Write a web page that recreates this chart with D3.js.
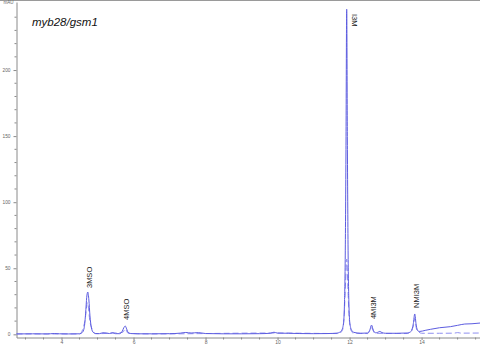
<!DOCTYPE html>
<html>
<head>
<meta charset="utf-8">
<script src="https://cdn.jsdelivr.net/npm/d3@7"></script>
<style>
  body { margin: 0; background: #fff; }
  svg { display: block; }
  .axis path, .axis line { stroke: #8a8a8a; }
  .axis text { fill: #666; font-family: "Liberation Sans", Arial, sans-serif; }
</style>
</head>
<body>
<div id="chart"></div>
<script>
// retention time (min) and absorbance (mAU)
var solidTime = [2.75, 3.2, 3.6, 3.8, 3.95, 4.2, 4.5, 4.58, 4.63, 4.67, 4.70, 4.73, 4.76, 4.79, 4.83, 4.88, 4.95, 5.05, 5.15, 5.25, 5.33, 5.42, 5.5, 5.62, 5.69, 5.73, 5.77, 5.81, 5.85, 5.92, 6.1, 6.5, 7.0, 7.3, 7.45, 7.6, 7.8, 8.0, 8.5, 9.0, 9.5, 9.8, 9.9, 10.0, 10.3, 10.6, 11.0, 11.4, 11.65, 11.72, 11.78, 11.83, 11.86, 11.88, 11.90, 11.92, 11.94, 11.96, 11.98, 12.01, 12.06, 12.12, 12.3, 12.5, 12.56, 12.61, 12.66, 12.72, 12.78, 12.84, 12.9, 13.0, 13.3, 13.6, 13.72, 13.77, 13.81, 13.85, 13.9, 13.95, 14.1, 14.25, 14.5, 14.8, 15.0, 15.2, 15.4, 15.65];
var solidValue = [0.3, 0.4, 0.3, 0.6, 0.4, 0.3, 0.4, 1.5, 5, 16, 28, 32, 26, 14, 5, 1.5, 0.6, 0.5, 1.2, 1.0, 0.6, 1.3, 0.5, 0.5, 2.5, 5, 6.3, 4, 1.5, 0.6, 0.4, 0.4, 0.5, 0.9, 1.4, 1.0, 1.3, 0.6, 0.4, 0.4, 0.5, 0.8, 1.6, 0.9, 0.8, 0.6, 0.5, 0.6, 0.9, 1.5, 3, 8, 25, 60, 140, 246, 140, 60, 25, 8, 3, 1.5, 0.8, 1.0, 3, 7, 3, 1.2, 1.5, 2.2, 1.3, 0.8, 0.8, 1.0, 2.5, 8, 15.4, 7, 2.5, 2.2, 3.0, 3.8, 5.0, 5.8, 6.8, 7.8, 8.0, 8.6];

var dashTime = [2.75, 4.5, 4.65, 4.72, 4.8, 4.95, 5.7, 5.77, 5.85, 6.5, 9.9, 11.7, 11.8, 11.85, 11.89, 11.92, 11.95, 11.99, 12.04, 12.1, 12.5, 12.61, 12.7, 13.6, 13.77, 13.81, 13.86, 14.0, 14.5, 14.9, 15.0, 15.1, 15.65];
var dashValue = [0.3, 0.3, 10, 24, 8, 0.5, 1.5, 4, 0.8, 0.3, 1.0, 0.6, 3, 14, 40, 57, 38, 12, 3, 1.0, 0.6, 5, 0.8, 0.6, 6, 12, 4, 0.8, 0.8, 0.9, 1.3, 0.9, 1.0];

var peakNames = ["3MSO", "4MSO", "I3M", "4MI3M", "NMI3M"];
var peakTime = [4.73, 5.77, 11.92, 12.61, 13.81];
var peakValue = [32, 6.3, 246, 7, 15.4];

var xTicks = [4, 6, 8, 10, 12, 14];
var yTicks = [0, 50, 100, 150, 200];

var width = 480, height = 346;
var svg = d3.select("#chart").append("svg")
    .attr("width", width)
    .attr("height", height);

var x = d3.scaleLinear().domain([2.75, 15.65]).range([16.5, 481]);
var y = d3.scaleLinear().domain([-2.4, 251.5]).range([337.5, 2]);

// thin frame line along the top
svg.append("line")
    .attr("x1", 0).attr("x2", width)
    .attr("y1", 0.5).attr("y2", 0.5)
    .style("stroke", "#9a9a9a");

// x axis
var xAxis = svg.append("g")
    .attr("class", "axis")
    .attr("transform", "translate(0," + y.range()[0] + ")")
    .call(d3.axisBottom(x).tickValues(xTicks).tickSize(2.5).tickSizeOuter(0).tickFormat(d3.format("d")));
xAxis.selectAll("text").style("font-size", "5px").attr("y", 3).attr("dy", "0.71em");
xAxis.selectAll(".minor")
    .data(d3.range(3, 15.6, 0.5).filter(function(d) { return d % 2 != 0; }))
  .enter().append("line")
    .attr("class", "minor")
    .attr("x1", function(d) { return x(d); }).attr("x2", function(d) { return x(d); })
    .attr("y1", 0).attr("y2", 2);

// y axis
var yAxis = svg.append("g")
    .attr("class", "axis")
    .attr("transform", "translate(" + x.range()[0] + ",0)")
    .call(d3.axisLeft(y).tickValues(yTicks).tickSize(3).tickSizeOuter(0));
yAxis.selectAll("text").style("font-size", "4.8px");
yAxis.selectAll(".minor")
    .data(d3.range(10, 250, 10).filter(function(d) { return d % 50 != 0; }))
  .enter().append("line")
    .attr("class", "minor")
    .attr("x1", -2).attr("x2", 0)
    .attr("y1", function(d) { return y(d); }).attr("y2", function(d) { return y(d); });
yAxis.append("text")
    .attr("x", -3).attr("y", 4)
    .attr("text-anchor", "end")
    .style("font-size", "4.5px")
    .text("mAU");

// traces
var line = d3.line()
    .x(function(d) { return x(d[0]); })
    .y(function(d) { return y(d[1]); })
    .curve(d3.curveMonotoneX);

svg.append("path")
    .datum(d3.zip(dashTime, dashValue))
    .attr("d", line)
    .style("fill", "none")
    .style("stroke", "#8f8ff0")
    .style("stroke-width", 1)
    .style("stroke-dasharray", "6,3");

svg.append("path")
    .datum(d3.zip(solidTime, solidValue))
    .attr("d", line)
    .style("fill", "none")
    .style("stroke", "#5c5ce0")
    .style("stroke-width", 1);

// peak labels
var labelOffset = [4, 6, 0, 6, 6];
svg.selectAll(".peak")
    .data(peakNames)
  .enter().append("text")
    .attr("class", "peak")
    .attr("transform", function(d, i) {
      if (d == "I3M") {
        return "translate(" + (x(peakTime[i]) + 5) + "," + 14 + ") rotate(90)";
      }
      return "translate(" + (x(peakTime[i]) + 4) + "," + (y(peakValue[i]) - labelOffset[i]) + ") rotate(-90)";
    })
    .style("font-family", "Liberation Sans, Arial, sans-serif")
    .style("font-size", "7.5px")
    .style("fill", "#222")
    .text(function(d) { return d; });

// title
svg.append("text")
    .attr("x", 32).attr("y", 26)
    .style("font-family", "Liberation Sans, Arial, sans-serif")
    .style("font-style", "italic")
    .style("font-size", "11.5px")
    .style("fill", "#111")
    .text("myb28/gsm1");
</script>
</body>
</html>
